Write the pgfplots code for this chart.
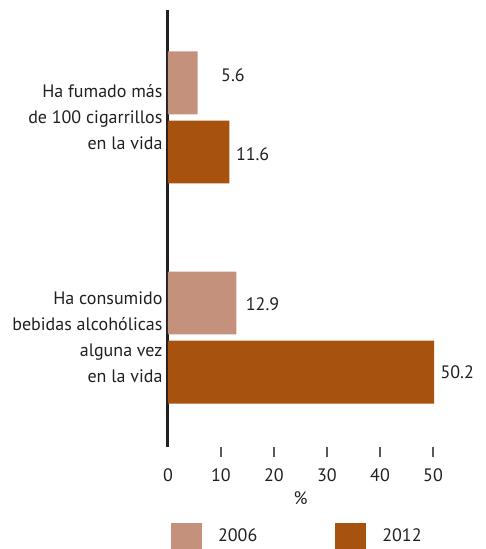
\documentclass[border=0pt]{standalone}
\usepackage{pgfplots}
\pgfplotsset{compat=1.18}
\usepackage{fontspec}
\setmainfont{PT Sans}
\definecolor{cA}{RGB}{196,145,124}
\definecolor{cB}{RGB}{168,82,16}
\definecolor{txt}{RGB}{35,31,32}
\newcommand{\ff}{\fontsize{18}{26}\selectfont}
\begin{document}
\begin{tikzpicture}
\useasboundingbox (-168pt,-102pt) rectangle (318pt,447pt);
\begin{axis}[
 at={(0pt,0pt)}, anchor=south west,
 scale only axis,
 width=265pt, height=437pt,
 xmin=0, xmax=50, ymin=-0.4977, ymax=1.4886,
 clip=false,
 xbar, bar width=0.286,
 axis x line*=bottom, axis y line*=left,
 x axis line style={draw=none},
 y axis line style={line width=3pt, color=txt, -},
 xtick={10,20,30,40,50},
 extra x ticks={0},
 extra x tick style={major tick style={draw=none}},
 tick align=outside,
 major tick length=10pt,
 xtick style={line width=1.5pt, color=black!65},
 ytick={0,1},
 ytick style={draw=none},
 yticklabels={{Ha consumido\\bebidas alcohólicas\\alguna vez\\en la vida},{Ha fumado más\\de 100 cigarrillos\\en la vida}},
 yticklabel style={align=right, font=\ff, text=txt, xshift=8pt},
 xticklabel style={font=\ff, text=txt, yshift=-8pt},
 /pgf/number format/assume math mode=true,
 xlabel={\%},
 xlabel style={font=\ff, text=txt, yshift=17pt},
 legend style={at={(axis description cs:0.011,-0.174)}, anchor=north west, draw=none, fill=none,
   font=\ff, text=txt, legend columns=2, inner sep=0pt,
   /tikz/every odd column/.append style={column sep=14pt},
   /tikz/every even column/.append style={column sep=76pt}},
 nodes near coords,
 nodes near coords style={font=\ff, text=txt, anchor=west, xshift=\dx pt, yshift=\dy pt,
   /pgf/number format/.cd, fixed, precision=1, fixed zerofill, assume math mode=true},
 visualization depends on={\thisrow{dx} \as \dx},
 visualization depends on={\thisrow{dy} \as \dy},
]
\addplot[fill=cA, draw=none, bar shift=0.157,
  legend image code/.code={\fill[cA] (0pt,-13pt) rectangle (31pt,13pt);}]
 table[x=x,y=y] {
x y dx dy
5.6 1 20 8
12.9 0 6 -1
};
\addplot[fill=cB, draw=none, bar shift=-0.157,
  legend image code/.code={\fill[cB] (0pt,-13pt) rectangle (31pt,13pt);}]
 table[x=x,y=y] {
x y dx dy
11.6 1 3 -2
50.2 0 3 0
};
\legend{2006,2012}
\end{axis}
\end{tikzpicture}
\end{document}
